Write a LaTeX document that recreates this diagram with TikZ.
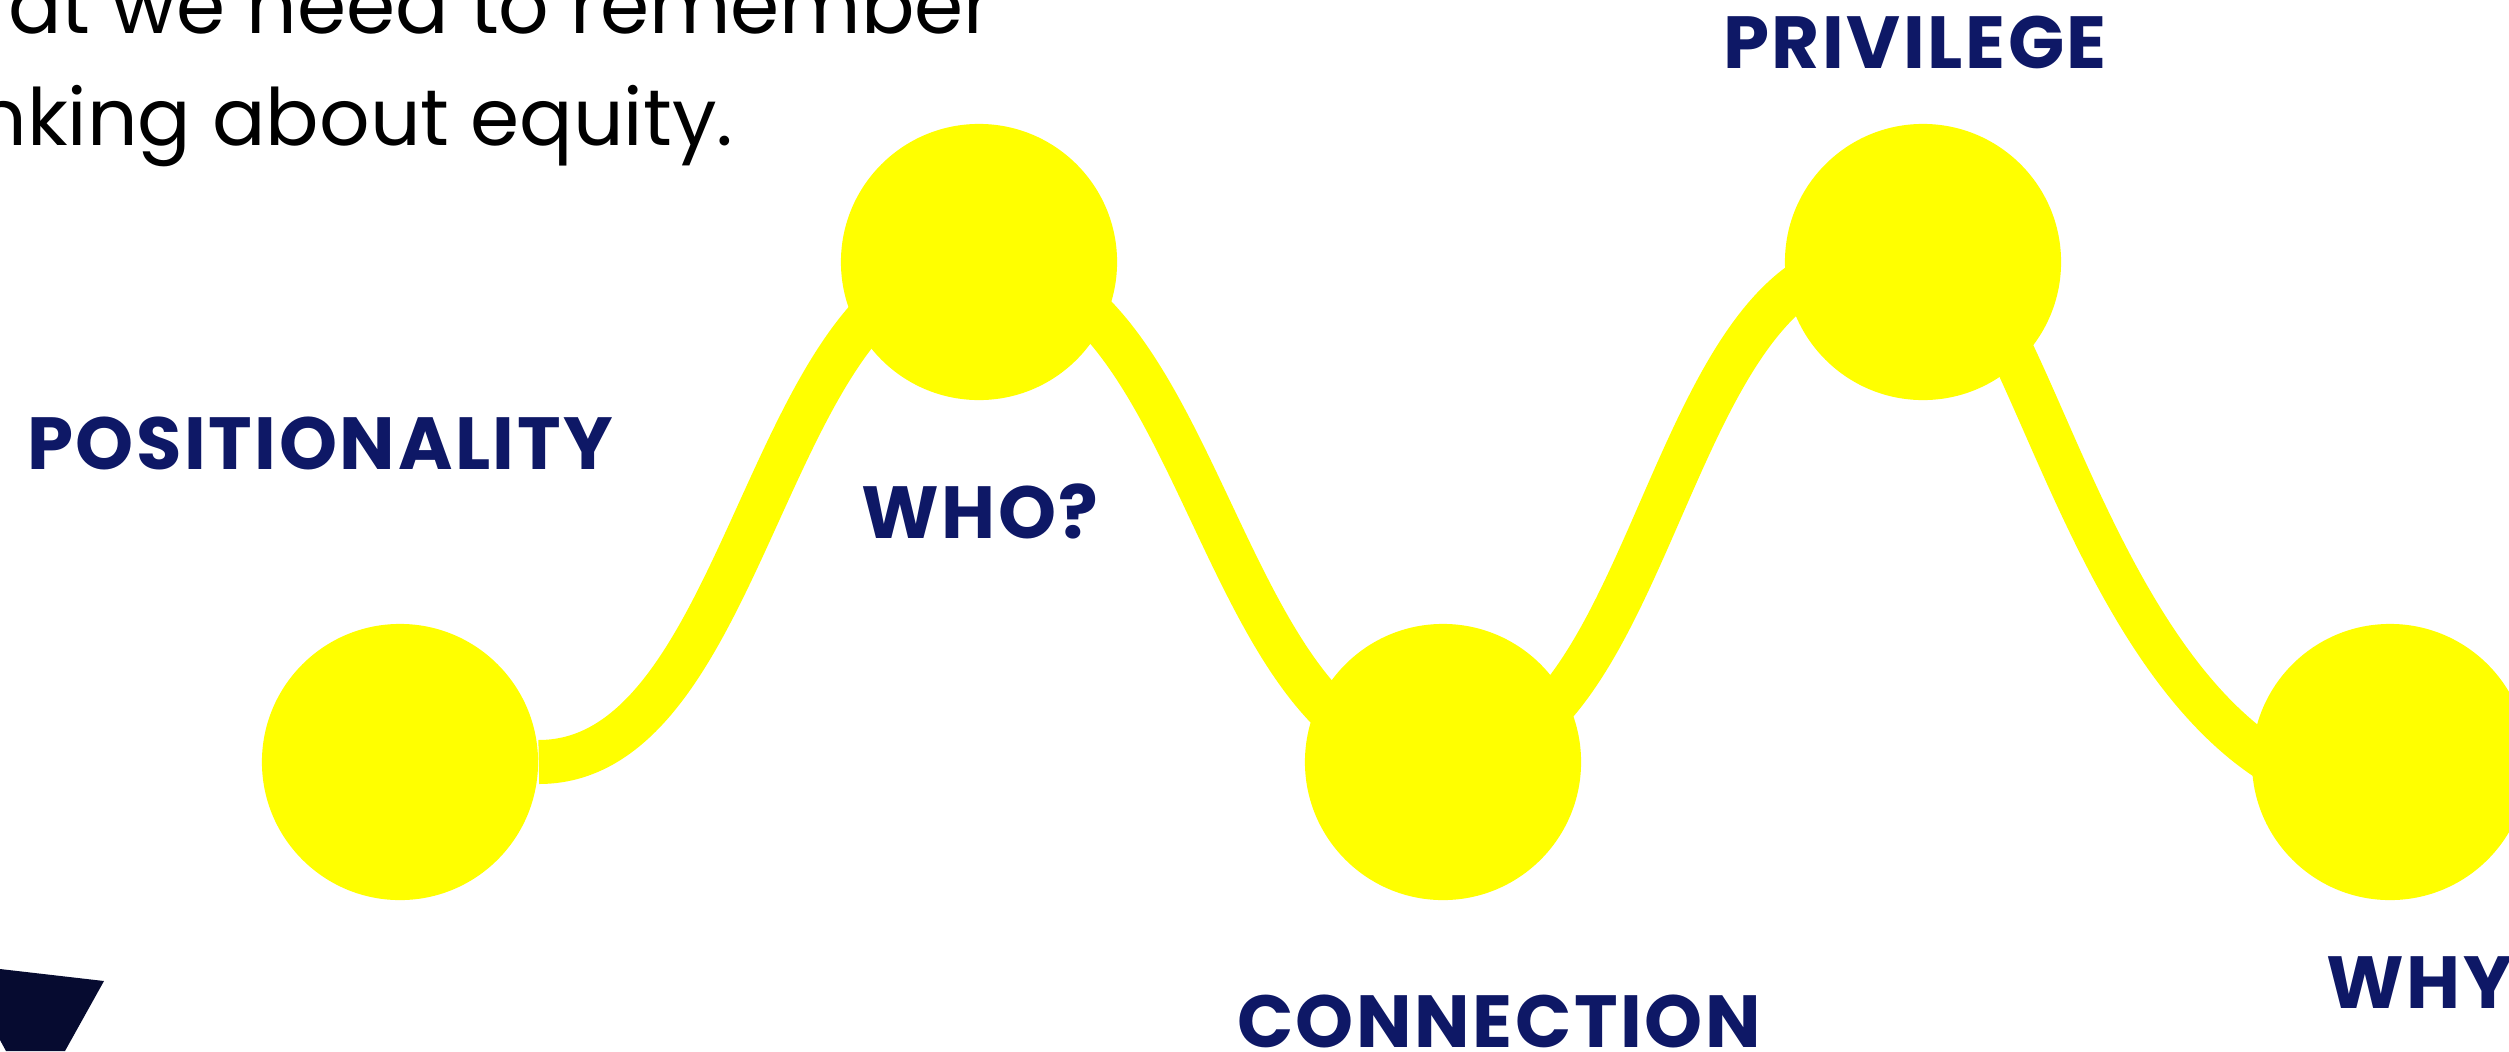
\documentclass[tikz,border=0pt]{standalone}
\usepackage{fontspec}
\setmainfont{Poppins}
\newfontfamily\labelfont[LetterSpace=3.5]{Poppins}
\usepackage{tikz}
\usetikzlibrary{backgrounds}
\definecolor{waveyellow}{HTML}{FFFF00}
\definecolor{labelnavy}{HTML}{0E1866}
\definecolor{cornernavy}{HTML}{060B30}

\begin{document}
\begin{tikzpicture}[
  x=0.01cm, y=-0.01cm,
  dot/.style={circle, fill=waveyellow, minimum size=2.76cm, inner sep=0pt},
  wave/.style={draw=waveyellow, line width=0.44cm},
  steplabel/.style={font=\labelfont\bfseries\fontsize{21}{25}\selectfont, text=labelnavy, inner sep=0pt},
  bodytext/.style={font=\fontsize{22.5}{27}\selectfont, text=black, inner sep=0pt},
]
  \useasboundingbox (0,0) rectangle (2509,1051);
  \clip (0,0) rectangle (2509,1051);

  % text cut off at the top left
  \node[bodytext, anchor=base east] (line1) at (994,33)  {at we need to remember};
  \node[bodytext, anchor=base east] (line2) at (734,145) {nking about equity.};

  % circles along the wave
  \node[dot] (c1) at (400,762)  {};
  \node[dot] (c2) at (979,262)  {};
  \node[dot] (c3) at (1443,762) {};
  \node[dot] (c4) at (1923,262) {};
  \node[dot] (c5) at (2390,762) {};
  \coordinate (c4in)  at (1878,258);
  \coordinate (c4out) at (1935,258);
  \coordinate (c5low) at (2400,800);

  \begin{pgfonlayer}{background}
    \draw[wave] (c1.east) .. controls +(213,0) and +(-213,0) .. (c2.center)
      .. controls +(228,0) and +(-228,0) .. (c3.center)
      .. controls +(215,0) and +(-215,0) .. (c4in) -- (c4out)
      .. controls +(100,0) and +(-300,0) .. (c5low);
  \end{pgfonlayer}

  % labels
  \node[steplabel, anchor=base] (pos) at (320,469)  {POSITIONALITY};
  \node[steplabel, anchor=base] (who) at (980,538)  {WHO?};
  \node[steplabel, anchor=base] (con) at (1499,1047) {CONNECTION};
  \node[steplabel, anchor=base] (pri) at (1915,68)  {PRIVILEGE};
  \node[steplabel, anchor=base west] (why) at (2326,1008) {WHY};

  % dark corner shape
  \fill[cornernavy] (0,969) -- (104,981) -- (65,1051) -- (6,1051) -- (0,1040) -- cycle;
\end{tikzpicture}
\end{document}
